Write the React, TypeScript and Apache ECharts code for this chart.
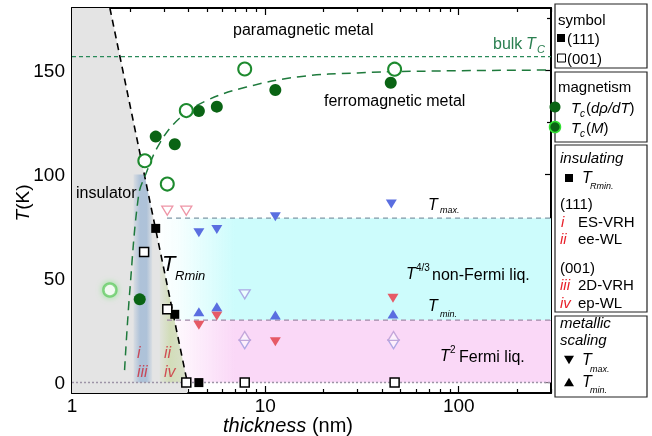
import React, { useEffect, useRef } from 'react';
import * as echarts from 'echarts';

// ---------- axis ticks ----------
const xMajorTicks = [1, 10, 100];
const xMinorTicks = [2, 3, 4, 5, 6, 7, 8, 9, 20, 30, 40, 50, 60, 70, 80, 90, 200, 300];
const yMajorTicks = [0, 50, 100, 150];
const yMinorTicks = [25, 75, 125, 175];

// ---------- regions (thickness nm, T K) ----------
const insulatorX = [1, 1, 1.57, 3.95, 3.95];
const insulatorT = [-5, 180, 180, 0, -5];
const bandIX = [2.08, 2.08, 2.37, 2.6, 2.6];
const bandIT = [0, 100, 100, 82, 0];
const bandIIX = [2.84, 2.84, 3.85, 3.85];
const bandIIT = [0, 64.5, 5, 0];
const nflX = [2.7, 300, 300, 2.7];
const nflT = [30, 30, 79, 79];
const flX = [2.7, 300, 300, 2.7];
const flT = [0, 0, 30, 30];

// ---------- lines ----------
const bulkTcX = [1, 300];
const bulkTcT = [156.6, 156.6];
const tmaxLineX = [3.1, 300];
const tmaxLineT = [79, 79];
const tminLineX = [3.1, 300];
const tminLineT = [30, 30];
const zeroLineX = [1, 300];
const zeroLineT = [0, 0];
const rminLineX = [1.57, 3.95];
const rminLineT = [180, 0];
const tcFitX = [1.87, 1.99, 2.21, 2.38, 2.84, 3.6, 4.96, 7.98, 15, 30, 60, 300];
const tcFitT = [6, 44, 90, 99, 115, 127, 135.5, 142, 147, 148.8, 149.6, 150.2];

// ---------- points ----------
const tcRhoX = [2.24, 2.71, 3.4, 4.53, 5.61, 11.26, 44.5];
const tcRhoT = [40, 118.2, 114.5, 130.5, 132.6, 140.6, 144.1];
const tcMX = [2.38, 3.11, 3.9, 7.82, 46.6];
const tcMT = [106.6, 95.4, 130.7, 150.7, 150.6];
const tcMFadedX = [1.57];
const tcMFadedT = [44.5];
const rmin111X = [2.71, 3.4, 4.53];
const rmin111T = [74.1, 32.8, 0];
const rmin001X = [2.36, 3.11, 3.9, 7.82, 46.6];
const rmin001T = [62.7, 35.2, 0, 0, 0];
const tmaxBlueX = [4.53, 5.61, 11.26, 44.8];
const tmaxBlueT = [72, 73.6, 79.7, 85.8];
const tminBlueX = [4.53, 5.61, 11.26, 45.7];
const tminBlueT = [34, 36.4, 32.5, 33];
const tmaxRedX = [4.53, 5.61, 11.26, 45.7];
const tmaxRedT = [27.6, 32, 19.6, 40.5];
const tmaxOpenPinkX = [3.11, 3.9];
const tmaxOpenPinkT = [82.6, 82.6];
const tmaxOpenPurpleX = [7.82, 7.82, 46];
const tmaxOpenPurpleT = [42.4, 18.4, 18.4];
const tminOpenPurpleX = [7.82, 46];
const tminOpenPurpleT = [22.4, 22.4];

const FF = '"Liberation Sans", Arial, Helvetica, sans-serif';
const zip = (xs: number[], ys: number[]) => xs.map((x, i) => [x, ys[i]]);

function poly(xs: number[], ts: number[], fill: any, z: number) {
  return {
    type: 'custom',
    xAxisIndex: 0,
    yAxisIndex: 0,
    z,
    silent: true,
    clip: true,
    data: [[xs[0], ts[0]]],
    renderItem: (_p: any, api: any) => ({
      type: 'polygon',
      shape: { points: xs.map((x, i) => api.coord([x, ts[i]])) },
      style: { fill },
    }),
  };
}

function line(xs: number[], ts: number[], color: string, width: number, type: any, z: number, smooth: any = false) {
  return {
    type: 'line',
    xAxisIndex: 0,
    yAxisIndex: 0,
    data: zip(xs, ts),
    showSymbol: false,
    symbol: 'none',
    smooth,
    silent: true,
    z,
    lineStyle: { color, width, type },
  };
}

function scatter(xs: number[], ts: number[], symbol: string, size: any, itemStyle: any, z: number, rotate = 0) {
  return {
    type: 'scatter',
    xAxisIndex: 0,
    yAxisIndex: 0,
    data: zip(xs, ts),
    symbol,
    symbolSize: size,
    symbolRotate: rotate,
    itemStyle: { opacity: 1, ...itemStyle },
    z,
    silent: true,
  };
}

function tx(x: number, y: number, text: string, size = 16, opt: any = {}) {
  const rich: any = {
    i: { fontStyle: 'italic', fontSize: size, fontFamily: FF, fill: opt.color || '#000', color: opt.color || '#000' },
  };
  return {
    type: 'text',
    x,
    y,
    z: 100,
    rotation: opt.rot || 0,
    silent: true,
    style: {
      text,
      fill: opt.color || '#000',
      fontSize: size,
      fontFamily: FF,
      fontStyle: opt.italic ? 'italic' : 'normal',
      align: opt.align || 'left',
      textAlign: opt.align || 'left',
      verticalAlign: 'middle',
      textVerticalAlign: 'middle',
      rich,
    },
  };
}

function box(x: number, y: number, w: number, h: number) {
  return {
    type: 'rect',
    z: 90,
    silent: true,
    shape: { x, y, width: w, height: h },
    style: { fill: '#fff', stroke: '#222', lineWidth: 1.2 },
  };
}

function tri(cx: number, cy: number, s: number, down: boolean) {
  const h = s * 0.85;
  const pts = down
    ? [[cx - s / 2, cy - h / 2], [cx + s / 2, cy - h / 2], [cx, cy + h / 2]]
    : [[cx - s / 2, cy + h / 2], [cx + s / 2, cy + h / 2], [cx, cy - h / 2]];
  return { type: 'polygon', z: 100, silent: true, shape: { points: pts }, style: { fill: '#000' } };
}

const hGrad = (stops: [number, string][]) =>
  new echarts.graphic.LinearGradient(0, 0, 1, 0, stops.map(([offset, color]) => ({ offset, color })));

function xAxisDef(position: string, major: boolean) {
  return {
    type: 'log',
    logBase: 10,
    min: 1,
    max: 300,
    position,
    gridIndex: 0,
    axisLine: { show: major, onZero: false, lineStyle: { color: '#000', width: 2 } },
    axisTick: {
      show: true,
      inside: true,
      length: major ? 7 : 4,
      customValues: major ? xMajorTicks : xMinorTicks,
      lineStyle: { color: '#000', width: 1.2 },
    },
    axisLabel: {
      show: major && position === 'bottom',
      customValues: xMajorTicks,
      fontSize: 19,
      color: '#000',
      fontFamily: FF,
      margin: 3,
    },
    splitLine: { show: false },
    minorTick: { show: false },
    axisPointer: { show: false },
  };
}

function yAxisDef(position: string, major: boolean) {
  return {
    type: 'value',
    min: -5,
    max: 180,
    position,
    gridIndex: 0,
    axisLine: { show: major, onZero: false, lineStyle: { color: '#000', width: 2 } },
    axisTick: {
      show: true,
      inside: true,
      length: major ? 6 : 4,
      customValues: major ? yMajorTicks : yMinorTicks,
      lineStyle: { color: '#000', width: 1.2 },
    },
    axisLabel: {
      show: major && position === 'left',
      customValues: yMajorTicks,
      fontSize: 19,
      color: '#000',
      fontFamily: FF,
      margin: 7,
    },
    splitLine: { show: false },
    axisPointer: { show: false },
  };
}

const RED = 'rgba(205,40,55,0.8)';
const GREEN_TXT = '#2a7f50';

const graphics: any[] = [
  // plot annotations
  tx(233, 29, 'paramagnetic metal', 16),
  tx(493, 43, 'bulk', 16, { color: GREEN_TXT }),
  tx(526, 43, 'T', 16, { color: GREEN_TXT, italic: true }),
  tx(537, 49, 'C', 11, { color: GREEN_TXT, italic: true }),
  tx(324, 100, 'ferromagnetic metal', 16),
  tx(76, 192, 'insulator', 16),
  tx(162, 263, 'T', 22, { italic: true }),
  tx(175, 275, 'Rmin', 13, { italic: true }),
  tx(428, 204, 'T', 16, { italic: true }),
  tx(440, 210, 'max.', 9, { italic: true }),
  tx(406, 273, 'T', 16, { italic: true }),
  tx(416, 267, '4/3', 10),
  tx(432, 274, 'non-Fermi liq.', 16),
  tx(428, 305, 'T', 16, { italic: true }),
  tx(440, 314, 'min.', 9, { italic: true }),
  tx(440, 355, 'T', 16, { italic: true }),
  tx(450, 349, '2', 10),
  tx(459, 356, 'Fermi liq.', 16),
  tx(137, 352, 'i', 16, { italic: true, color: RED }),
  tx(137, 371, 'iii', 16, { italic: true, color: RED }),
  tx(164, 352, 'ii', 16, { italic: true, color: RED }),
  tx(164, 371, 'iv', 16, { italic: true, color: RED }),
  // axis names
  tx(22, 203, '{i|T}(K)', 19, { align: 'center', rot: Math.PI / 2 }),
  tx(288, 425, '{i|thickness} (nm)', 20, { align: 'center' }),

  // legend box 1
  box(555, 4, 92, 64),
  tx(558, 19, 'symbol', 15),
  { type: 'rect', z: 100, silent: true, shape: { x: 557, y: 34, width: 8, height: 8 }, style: { fill: '#000' } },
  tx(567, 38, '(111)', 15),
  { type: 'rect', z: 100, silent: true, shape: { x: 557.5, y: 54, width: 8, height: 8 }, style: { fill: '#fff', stroke: '#000', lineWidth: 1 } },
  tx(567, 58, '(001)', 15),

  // legend box 2
  box(555, 72, 92, 70),
  tx(558, 86, 'magnetism', 15),
  { type: 'circle', z: 100, silent: true, shape: { cx: 555, cy: 107, r: 5.5 }, style: { fill: '#0a6414' } },
  tx(571, 107, 'T', 15, { italic: true }),
  tx(580, 113, 'c', 10, { italic: true }),
  tx(586, 107, '({i|dρ/dT})', 15),
  { type: 'circle', z: 100, silent: true, shape: { cx: 555, cy: 127, r: 5.5 }, style: { fill: '#0a6414', stroke: '#33e033', lineWidth: 1.5 } },
  tx(571, 127, 'T', 15, { italic: true }),
  tx(580, 133, 'c', 10, { italic: true }),
  tx(586, 127, '({i|M})', 15),

  // legend box 3
  box(555, 145, 92, 167),
  tx(560, 157, 'insulating', 15, { italic: true }),
  { type: 'rect', z: 100, silent: true, shape: { x: 565, y: 174, width: 8, height: 8 }, style: { fill: '#000' } },
  tx(582, 177, 'T', 16, { italic: true }),
  tx(590, 186, 'Rmin.', 9, { italic: true }),
  tx(560, 203, '(111)', 15),
  tx(561, 221, 'i', 15, { italic: true, color: '#e8202a' }),
  tx(578, 221, 'ES-VRH', 15),
  tx(560, 238, 'ii', 15, { italic: true, color: '#e8202a' }),
  tx(578, 238, 'ee-WL', 15),
  tx(560, 267, '(001)', 15),
  tx(560, 284, 'iii', 15, { italic: true, color: '#e8202a' }),
  tx(578, 284, '2D-VRH', 15),
  tx(560, 302, 'iv', 15, { italic: true, color: '#e8202a' }),
  tx(578, 302, 'ep-WL', 15),

  // legend box 4
  box(555, 316, 92, 81),
  tx(560, 322, 'metallic', 15, { italic: true }),
  tx(560, 339, 'scaling', 15, { italic: true }),
  tri(569, 360, 10, true),
  tx(582, 359, 'T', 16, { italic: true }),
  tx(590, 369, 'max.', 9, { italic: true }),
  tri(569, 382, 10, false),
  tx(582, 381, 'T', 16, { italic: true }),
  tx(590, 390, 'min.', 9, { italic: true }),
];

const option: any = {
  animation: false,
  textStyle: { fontFamily: FF },
  grid: { left: 72, right: 101, top: 8, bottom: 43 },
  xAxis: [xAxisDef('bottom', true), xAxisDef('bottom', false), xAxisDef('top', true), xAxisDef('top', false)],
  yAxis: [yAxisDef('left', true), yAxisDef('left', false), yAxisDef('right', true), yAxisDef('right', false)],
  graphic: { elements: graphics },
  series: [
    poly(nflX, nflT, hGrad([[0, 'rgba(205,252,252,0)'], [0.06, 'rgba(205,252,252,0.2)'], [0.2, 'rgba(205,252,252,1)'], [1, 'rgba(205,252,252,1)']]), 1),
    poly(flX, flT, hGrad([[0, 'rgba(250,216,247,0)'], [0.06, 'rgba(250,216,247,0.2)'], [0.2, 'rgba(250,216,247,1)'], [1, 'rgba(250,216,247,1)']]), 1),
    poly(insulatorX, insulatorT, '#e4e4e4', 2),
    poly(bandIX, bandIT, hGrad([[0, 'rgba(120,160,205,0.1)'], [0.35, 'rgba(120,160,205,0.5)'], [0.7, 'rgba(120,160,205,0.5)'], [1, 'rgba(120,160,205,0.08)']]), 3),
    poly(bandIIX, bandIIT, hGrad([[0, 'rgba(195,215,150,0.1)'], [0.4, 'rgba(195,215,150,0.55)'], [1, 'rgba(195,215,150,0.35)']]), 3),
    line(bulkTcX, bulkTcT, '#2a8a5a', 1.2, [4, 3], 4),
    line(tmaxLineX, tmaxLineT, '#7f98a6', 1.2, [5, 4], 4),
    line(tminLineX, tminLineT, '#a086a6', 1.2, [5, 4], 4),
    line(zeroLineX, zeroLineT, '#9d94a6', 1.5, [2, 2], 4),
    line(rminLineX, rminLineT, '#000', 1.6, [7, 5], 4),
    line(tcFitX, tcFitT, '#1e7a3c', 1.5, [9, 6], 4, 0.4),
    scatter(tcMFadedX, tcMFadedT, 'circle', 13, { color: 'rgba(255,255,255,0.8)', borderColor: 'rgba(90,200,90,0.7)', borderWidth: 2.5, shadowBlur: 6, shadowColor: 'rgba(120,230,120,0.9)' }, 6),
    scatter(tcRhoX, tcRhoT, 'circle', 12, { color: '#0a6414' }, 6),
    scatter(tcMX, tcMT, 'circle', 13, { color: '#fff', borderColor: '#1d8a2e', borderWidth: 2 }, 6),
    scatter(rmin111X, rmin111T, 'rect', 9, { color: '#000' }, 7),
    scatter(rmin001X, rmin001T, 'rect', 9, { color: '#fff', borderColor: '#000', borderWidth: 1.5 }, 7),
    scatter(tmaxOpenPinkX, tmaxOpenPinkT, 'triangle', [11, 9], { color: 'rgba(255,255,255,0.6)', borderColor: 'rgba(235,130,150,0.85)', borderWidth: 1.3 }, 6, 180),
    scatter(tmaxOpenPurpleX, tmaxOpenPurpleT, 'triangle', [11, 9], { color: 'rgba(255,255,255,0.6)', borderColor: 'rgba(165,160,225,0.9)', borderWidth: 1.3 }, 6, 180),
    scatter(tminOpenPurpleX, tminOpenPurpleT, 'triangle', [11, 9], { color: 'rgba(255,255,255,0.6)', borderColor: 'rgba(190,160,215,0.9)', borderWidth: 1.3 }, 6),
    scatter(tmaxRedX, tmaxRedT, 'triangle', [11, 9], { color: '#e65a66' }, 6, 180),
    scatter(tminBlueX, tminBlueT, 'triangle', [11, 9], { color: '#5a6ee0' }, 6),
    scatter(tmaxBlueX, tmaxBlueT, 'triangle', [11, 9], { color: '#5a6ee0' }, 6, 180),
  ],
};

export default function App() {
  const ref = useRef<HTMLDivElement>(null);
  useEffect(() => {
    const chart = echarts.init(ref.current as HTMLDivElement, null, { renderer: 'svg' });
    chart.setOption(option);
    return () => chart.dispose();
  }, []);
  return <div ref={ref} style={{ position: 'fixed', left: 0, top: 0, width: 652, height: 436 }} />;
}
